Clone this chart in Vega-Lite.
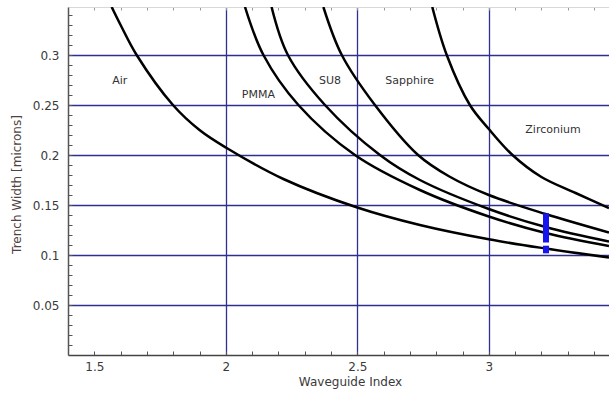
{
  "$schema": "https://vega.github.io/schema/vega-lite/v6.json",
  "width": 541,
  "height": 348,
  "autosize": {"type": "none"},
  "padding": {"left": 68, "top": 7, "right": 0, "bottom": 42},
  "background": "white",
  "config": {
    "view": {"stroke": null},
    "font": "DejaVu Sans"
  },
  "datasets": {
    "curves": [
      {"material": "Air", "x": 1.566, "y": 0.348},
      {"material": "Air", "x": 1.6, "y": 0.330},
      {"material": "Air", "x": 1.661, "y": 0.300},
      {"material": "Air", "x": 1.799, "y": 0.250},
      {"material": "Air", "x": 1.9, "y": 0.225},
      {"material": "Air", "x": 2.0, "y": 0.2075},
      {"material": "Air", "x": 2.219, "y": 0.176},
      {"material": "Air", "x": 2.5, "y": 0.1475},
      {"material": "Air", "x": 2.738, "y": 0.130},
      {"material": "Air", "x": 3.0, "y": 0.1157},
      {"material": "Air", "x": 3.216, "y": 0.1065},
      {"material": "Air", "x": 3.457, "y": 0.0975},
      {"material": "PMMA", "x": 2.073, "y": 0.348},
      {"material": "PMMA", "x": 2.143, "y": 0.300},
      {"material": "PMMA", "x": 2.276, "y": 0.250},
      {"material": "PMMA", "x": 2.491, "y": 0.200},
      {"material": "PMMA", "x": 2.738, "y": 0.165},
      {"material": "PMMA", "x": 3.0, "y": 0.1385},
      {"material": "PMMA", "x": 3.216, "y": 0.122},
      {"material": "PMMA", "x": 3.457, "y": 0.109},
      {"material": "SU8", "x": 2.174, "y": 0.348},
      {"material": "SU8", "x": 2.236, "y": 0.300},
      {"material": "SU8", "x": 2.377, "y": 0.250},
      {"material": "SU8", "x": 2.586, "y": 0.200},
      {"material": "SU8", "x": 2.738, "y": 0.175},
      {"material": "SU8", "x": 3.0, "y": 0.146},
      {"material": "SU8", "x": 3.216, "y": 0.128},
      {"material": "SU8", "x": 3.457, "y": 0.1135},
      {"material": "Sapphire", "x": 2.371, "y": 0.348},
      {"material": "Sapphire", "x": 2.441, "y": 0.300},
      {"material": "Sapphire", "x": 2.567, "y": 0.250},
      {"material": "Sapphire", "x": 2.731, "y": 0.200},
      {"material": "Sapphire", "x": 2.85, "y": 0.1785},
      {"material": "Sapphire", "x": 3.0, "y": 0.160},
      {"material": "Sapphire", "x": 3.216, "y": 0.141},
      {"material": "Sapphire", "x": 3.457, "y": 0.1225},
      {"material": "Zirconium", "x": 2.785, "y": 0.348},
      {"material": "Zirconium", "x": 2.840, "y": 0.300},
      {"material": "Zirconium", "x": 2.928, "y": 0.250},
      {"material": "Zirconium", "x": 3.0, "y": 0.226},
      {"material": "Zirconium", "x": 3.09, "y": 0.200},
      {"material": "Zirconium", "x": 3.2, "y": 0.178},
      {"material": "Zirconium", "x": 3.33, "y": 0.162},
      {"material": "Zirconium", "x": 3.457, "y": 0.147}
    ],
    "labels": [
      {"label": "Air", "x": 1.597, "y": 0.2745},
      {"label": "PMMA", "x": 2.124, "y": 0.260},
      {"label": "SU8", "x": 2.396, "y": 0.274},
      {"label": "Sapphire", "x": 2.699, "y": 0.274},
      {"label": "Zirconium", "x": 3.244, "y": 0.2255}
    ],
    "bar": [
      {"x": 3.2175, "y": 0.1017, "y2": 0.1093},
      {"x": 3.2175, "y": 0.1125, "y2": 0.1417}
    ]
  },
  "encoding": {
    "y": {
      "field": "y", "type": "quantitative",
      "scale": {"domain": [0, 0.348], "nice": false, "zero": false},
      "axis": {
        "orient": "left",
        "title": "Trench Width [microns]",
        "values": [0.01, 0.02, 0.03, 0.04, 0.05, 0.06, 0.07, 0.08, 0.09, 0.1, 0.11, 0.12, 0.13, 0.14, 0.15, 0.16, 0.17, 0.18, 0.19, 0.2, 0.21, 0.22, 0.23, 0.24, 0.25, 0.26, 0.27, 0.28, 0.29, 0.3, 0.31, 0.32, 0.33, 0.34],
        "format": "~g",
        "labelExpr": "abs(datum.value*20 - round(datum.value*20)) < 0.001 ? datum.label : ''",
        "labelOverlap": false,
        "labelFontSize": 12,
        "labelColor": "#3a3a3a",
        "labelPadding": 13,
        "tickSize": -4,
        "tickColor": "#555555",
        "domainColor": "#555555",
        "domainWidth": 1.5,
        "grid": true,
        "gridColor": "#2f2f8f",
        "gridWidth": 1.3,
        "gridOpacity": {"condition": {"test": "abs(datum.value*20 - round(datum.value*20)) < 0.001", "value": 1}, "value": 0},
        "titleFontSize": 12,
        "titleFontWeight": "normal",
        "titleColor": "#4e4242",
        "titleX": -45,
        "titleY": 177,
        "titleAngle": -90,
        "titleBaseline": "bottom"
      }
    }
  },
  "resolve": {"axis": {"x": "independent"}},
  "layer": [
    {
      "data": {"name": "curves"},
      "mark": {"type": "line", "color": "black", "strokeWidth": 2.5, "interpolate": "catmull-rom", "clip": true},
      "encoding": {
        "x": {
          "field": "x", "type": "quantitative",
          "scale": {"domain": [1.4, 3.457], "nice": false, "zero": false},
          "axis": {
            "orient": "bottom",
            "title": "Waveguide Index",
            "values": [1.5, 1.6, 1.7, 1.8, 1.9, 2.0, 2.1, 2.2, 2.3, 2.4, 2.5, 2.6, 2.7, 2.8, 2.9, 3.0, 3.1, 3.2, 3.3, 3.4],
            "format": "~g",
            "labelExpr": "abs(datum.value*2 - round(datum.value*2)) < 0.001 ? datum.label : ''",
            "labelOverlap": false,
            "labelFontSize": 12,
            "labelColor": "#3a3a3a",
            "labelPadding": 10,
            "tickSize": -4,
            "tickColor": "#555555",
            "domainColor": "#444444",
            "domainWidth": 1.5,
            "grid": true,
            "gridColor": "#2f2f8f",
            "gridWidth": 1.3,
            "gridOpacity": {"condition": {"test": "abs(datum.value*2 - round(datum.value*2)) < 0.001 && datum.value > 1.7", "value": 1}, "value": 0},
            "titleFontSize": 12,
            "titleFontWeight": "normal",
            "titleColor": "#3a3a3a",
            "titleX": 282,
            "titleY": 21,
            "titleBaseline": "top"
          }
        },
        "detail": {"field": "material"}
      }
    },
    {
      "data": {"name": "labels"},
      "mark": {"type": "text", "fontSize": 11, "color": "#333333", "align": "center", "baseline": "middle"},
      "encoding": {
        "x": {"field": "x", "type": "quantitative", "scale": {"domain": [1.4, 3.457], "nice": false, "zero": false}, "axis": null},
        "text": {"field": "label"}
      }
    },
    {
      "data": {"name": "bar"},
      "mark": {"type": "rule", "color": "#1515ee", "strokeWidth": 6},
      "encoding": {
        "x": {"field": "x", "type": "quantitative", "scale": {"domain": [1.4, 3.457], "nice": false, "zero": false}, "axis": null},
        "y2": {"field": "y2"}
      }
    },
    {
      "data": {"name": "labels"},
      "mark": {"type": "text", "opacity": 0, "text": ""},
      "encoding": {
        "x": {
          "field": "x", "type": "quantitative",
          "scale": {"domain": [1.4, 3.457], "nice": false, "zero": false},
          "axis": {
            "orient": "top",
            "title": null,
            "values": [1.5, 1.6, 1.7, 1.8, 1.9, 2.0, 2.1, 2.2, 2.3, 2.4, 2.5, 2.6, 2.7, 2.8, 2.9, 3.0, 3.1, 3.2, 3.3, 3.4],
            "labels": false,
            "tickSize": -3,
            "tickColor": "#9a9a9a",
            "domainColor": "#d8d8d8",
            "grid": false
          }
        }
      }
    }
  ]
}
